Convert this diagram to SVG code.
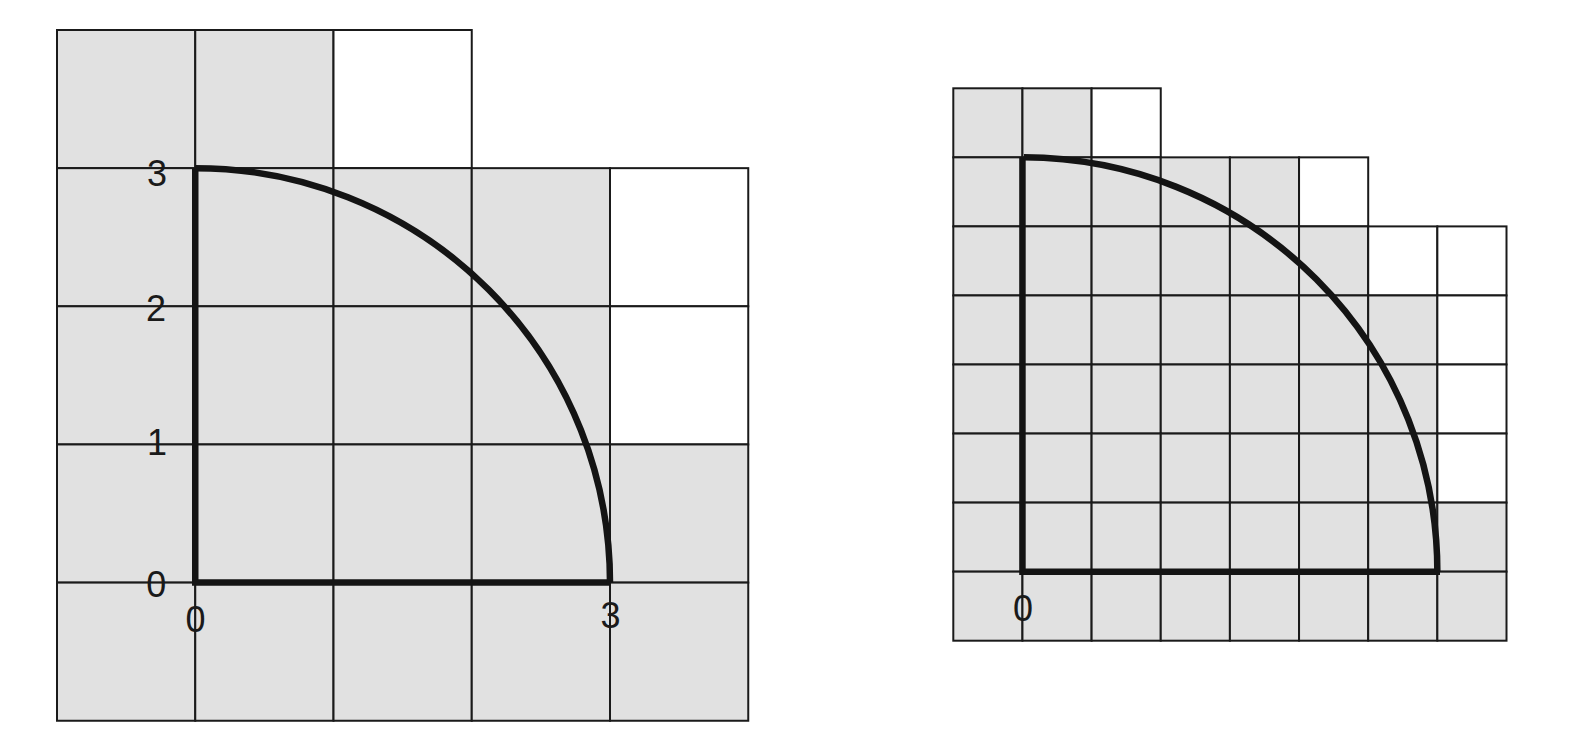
<svg xmlns="http://www.w3.org/2000/svg" width="1576" height="748" viewBox="0 0 1576 748">
  <style>
    .g { fill: #e1e1e1; stroke: #1a1a1a; stroke-width: 2; }
    .w { fill: #ffffff; stroke: #1a1a1a; stroke-width: 2; }
    .thick { fill: none; stroke: #141414; stroke-width: 6.5; stroke-linejoin: miter; stroke-linecap: butt; }
    .lbl { font-family: "Liberation Sans", Arial, sans-serif; font-size: 36px; fill: #1a1a1a; text-anchor: middle; }
  </style>
  <rect width="1576" height="748" fill="#ffffff"/>

  <g id="left-grid">
    <!-- row 0 -->
    <rect class="g" x="57" y="30" width="138.25" height="138.15"/>
    <rect class="g" x="195.25" y="30" width="138.25" height="138.15"/>
    <rect class="w" x="333.5" y="30" width="138.25" height="138.15"/>
    <!-- row 1 -->
    <rect class="g" x="57" y="168.15" width="138.25" height="138.15"/>
    <rect class="g" x="195.25" y="168.15" width="138.25" height="138.15"/>
    <rect class="g" x="333.5" y="168.15" width="138.25" height="138.15"/>
    <rect class="g" x="471.75" y="168.15" width="138.25" height="138.15"/>
    <rect class="w" x="610" y="168.15" width="138.25" height="138.15"/>
    <!-- row 2 -->
    <rect class="g" x="57" y="306.3" width="138.25" height="138.15"/>
    <rect class="g" x="195.25" y="306.3" width="138.25" height="138.15"/>
    <rect class="g" x="333.5" y="306.3" width="138.25" height="138.15"/>
    <rect class="g" x="471.75" y="306.3" width="138.25" height="138.15"/>
    <rect class="w" x="610" y="306.3" width="138.25" height="138.15"/>
    <!-- row 3 -->
    <rect class="g" x="57" y="444.45" width="138.25" height="138.15"/>
    <rect class="g" x="195.25" y="444.45" width="138.25" height="138.15"/>
    <rect class="g" x="333.5" y="444.45" width="138.25" height="138.15"/>
    <rect class="g" x="471.75" y="444.45" width="138.25" height="138.15"/>
    <rect class="g" x="610" y="444.45" width="138.25" height="138.15"/>
    <!-- row 4 -->
    <rect class="g" x="57" y="582.6" width="138.25" height="138.15"/>
    <rect class="g" x="195.25" y="582.6" width="138.25" height="138.15"/>
    <rect class="g" x="333.5" y="582.6" width="138.25" height="138.15"/>
    <rect class="g" x="471.75" y="582.6" width="138.25" height="138.15"/>
    <rect class="g" x="610" y="582.6" width="138.25" height="138.15"/>
  </g>

  <g id="left-quarter">
    <path class="thick" d="M195.25,168.15 V582.6 H610"/>
    <path class="thick" d="M195.25,168.15 A414.75,414.45 0 0 1 610,582.6"/>
  </g>

  <g id="left-labels">
    <text class="lbl" x="157" y="186">3</text>
    <text class="lbl" x="156" y="321">2</text>
    <text class="lbl" x="157" y="454.5">1</text>
    <text class="lbl" x="156.3" y="597">0</text>
    <text class="lbl" x="195.5" y="631.5">0</text>
    <text class="lbl" x="610.5" y="627.5">3</text>
  </g>

  <g id="right-grid">
    <!-- row 0 -->
    <rect class="g" x="953.3" y="88.3" width="69.15" height="69.05"/>
    <rect class="g" x="1022.45" y="88.3" width="69.15" height="69.05"/>
    <rect class="w" x="1091.6" y="88.3" width="69.15" height="69.05"/>
    <!-- row 1 -->
    <rect class="g" x="953.3" y="157.35" width="69.15" height="69.05"/>
    <rect class="g" x="1022.45" y="157.35" width="69.15" height="69.05"/>
    <rect class="g" x="1091.6" y="157.35" width="69.15" height="69.05"/>
    <rect class="g" x="1160.75" y="157.35" width="69.15" height="69.05"/>
    <rect class="g" x="1229.9" y="157.35" width="69.15" height="69.05"/>
    <rect class="w" x="1299.05" y="157.35" width="69.15" height="69.05"/>
    <!-- row 2 -->
    <rect class="g" x="953.3" y="226.4" width="69.15" height="69.05"/>
    <rect class="g" x="1022.45" y="226.4" width="69.15" height="69.05"/>
    <rect class="g" x="1091.6" y="226.4" width="69.15" height="69.05"/>
    <rect class="g" x="1160.75" y="226.4" width="69.15" height="69.05"/>
    <rect class="g" x="1229.9" y="226.4" width="69.15" height="69.05"/>
    <rect class="g" x="1299.05" y="226.4" width="69.15" height="69.05"/>
    <rect class="w" x="1368.2" y="226.4" width="69.15" height="69.05"/>
    <rect class="w" x="1437.35" y="226.4" width="69.15" height="69.05"/>
    <!-- row 3 -->
    <rect class="g" x="953.3" y="295.45" width="69.15" height="69.05"/>
    <rect class="g" x="1022.45" y="295.45" width="69.15" height="69.05"/>
    <rect class="g" x="1091.6" y="295.45" width="69.15" height="69.05"/>
    <rect class="g" x="1160.75" y="295.45" width="69.15" height="69.05"/>
    <rect class="g" x="1229.9" y="295.45" width="69.15" height="69.05"/>
    <rect class="g" x="1299.05" y="295.45" width="69.15" height="69.05"/>
    <rect class="g" x="1368.2" y="295.45" width="69.15" height="69.05"/>
    <rect class="w" x="1437.35" y="295.45" width="69.15" height="69.05"/>
    <!-- row 4 -->
    <rect class="g" x="953.3" y="364.5" width="69.15" height="69.05"/>
    <rect class="g" x="1022.45" y="364.5" width="69.15" height="69.05"/>
    <rect class="g" x="1091.6" y="364.5" width="69.15" height="69.05"/>
    <rect class="g" x="1160.75" y="364.5" width="69.15" height="69.05"/>
    <rect class="g" x="1229.9" y="364.5" width="69.15" height="69.05"/>
    <rect class="g" x="1299.05" y="364.5" width="69.15" height="69.05"/>
    <rect class="g" x="1368.2" y="364.5" width="69.15" height="69.05"/>
    <rect class="w" x="1437.35" y="364.5" width="69.15" height="69.05"/>
    <!-- row 5 -->
    <rect class="g" x="953.3" y="433.55" width="69.15" height="69.05"/>
    <rect class="g" x="1022.45" y="433.55" width="69.15" height="69.05"/>
    <rect class="g" x="1091.6" y="433.55" width="69.15" height="69.05"/>
    <rect class="g" x="1160.75" y="433.55" width="69.15" height="69.05"/>
    <rect class="g" x="1229.9" y="433.55" width="69.15" height="69.05"/>
    <rect class="g" x="1299.05" y="433.55" width="69.15" height="69.05"/>
    <rect class="g" x="1368.2" y="433.55" width="69.15" height="69.05"/>
    <rect class="w" x="1437.35" y="433.55" width="69.15" height="69.05"/>
    <!-- row 6 -->
    <rect class="g" x="953.3" y="502.6" width="69.15" height="69.05"/>
    <rect class="g" x="1022.45" y="502.6" width="69.15" height="69.05"/>
    <rect class="g" x="1091.6" y="502.6" width="69.15" height="69.05"/>
    <rect class="g" x="1160.75" y="502.6" width="69.15" height="69.05"/>
    <rect class="g" x="1229.9" y="502.6" width="69.15" height="69.05"/>
    <rect class="g" x="1299.05" y="502.6" width="69.15" height="69.05"/>
    <rect class="g" x="1368.2" y="502.6" width="69.15" height="69.05"/>
    <rect class="g" x="1437.35" y="502.6" width="69.15" height="69.05"/>
    <!-- row 7 -->
    <rect class="g" x="953.3" y="571.65" width="69.15" height="69.05"/>
    <rect class="g" x="1022.45" y="571.65" width="69.15" height="69.05"/>
    <rect class="g" x="1091.6" y="571.65" width="69.15" height="69.05"/>
    <rect class="g" x="1160.75" y="571.65" width="69.15" height="69.05"/>
    <rect class="g" x="1229.9" y="571.65" width="69.15" height="69.05"/>
    <rect class="g" x="1299.05" y="571.65" width="69.15" height="69.05"/>
    <rect class="g" x="1368.2" y="571.65" width="69.15" height="69.05"/>
    <rect class="g" x="1437.35" y="571.65" width="69.15" height="69.05"/>
  </g>

  <g id="right-quarter">
    <path class="thick" d="M1022.45,157.35 V571.65 H1440"/>
    <path class="thick" d="M1024,157.35 A414.9,414.3 0 0 1 1437.35,571.65"/>
  </g>

  <g id="right-labels">
    <text class="lbl" x="1023" y="620.5">0</text>
  </g>
</svg>
